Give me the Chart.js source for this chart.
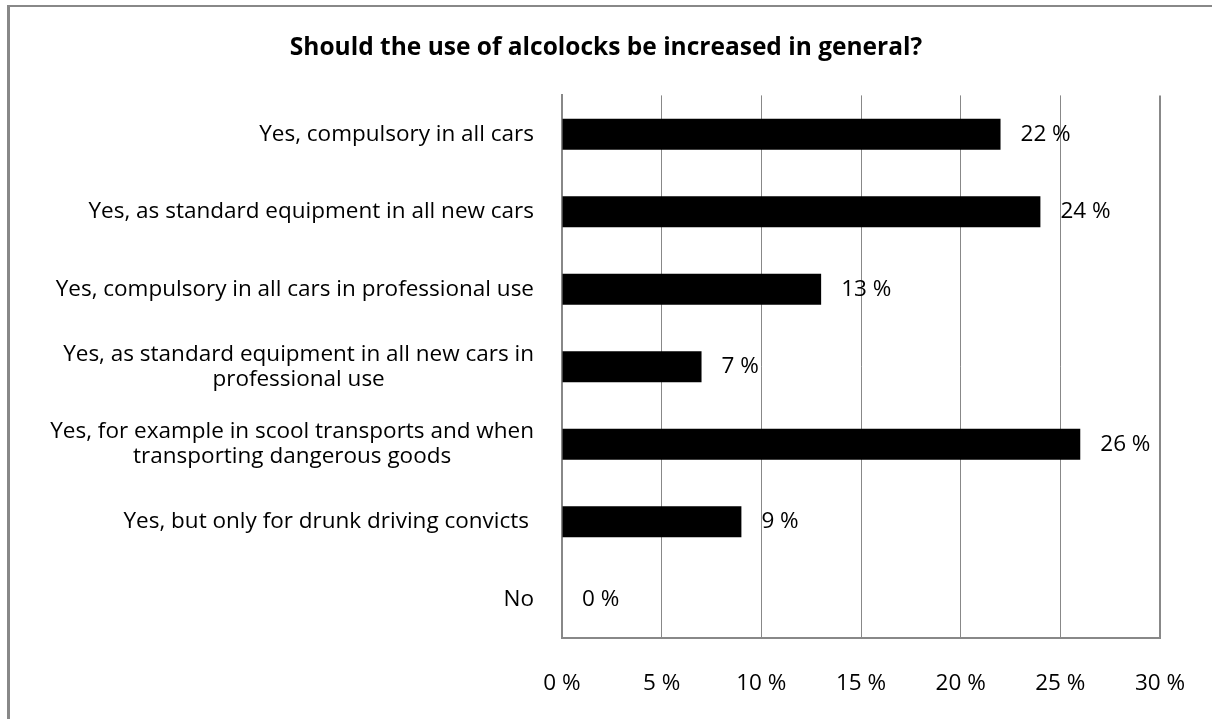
<!DOCTYPE html>
<html>
<head>
<meta charset="utf-8">
<script src="https://cdn.jsdelivr.net/npm/chart.js@4"></script>
<style>
  body { margin: 0; background: #fff; }
  #wrap { position: relative; width: 1212px; height: 719px; }
  #frame { position: absolute; left: 7px; top: 5px; right: 0; bottom: 0;
           border-top: 2px solid #888; border-left: 3px solid #888; pointer-events: none; }
</style>
</head>
<body>
<div id="wrap">
  <canvas id="grafico" width="1212" height="719"></canvas>
  <div id="frame"></div>
</div>
<script>
const titulo = 'Should the use of alcolocks be increased in general?';
const categorias = [
    ['Yes, compulsory in all cars'],
    ['Yes, as standard equipment in all new cars'],
    ['Yes, compulsory in all cars in professional use'],
    ['Yes, as standard equipment in all new cars in', 'professional use'],
    ['Yes, for example in scool transports and when', 'transporting dangerous goods'],
    ['Yes, but only for drunk driving convicts '],
    ['No']
];
const valores = [22, 24, 13, 7, 26, 9, 0];
const escalaMax = 30;
const passo = 5;

const fonte = '"Open Sans", Lato, sans-serif';
const tam = 22.5;

// rotulos do eixo y: linhas centradas entre si, alinhadas a direita
const rotulosY = {
    id: 'rotulosY',
    afterDraw(chart) {
        const ctx = chart.ctx;
        const y = chart.scales.y;
        const direita = chart.chartArea.left - 28;
        ctx.save();
        ctx.font = tam + 'px ' + fonte;
        ctx.fillStyle = '#000';
        ctx.textAlign = 'center';
        ctx.textBaseline = 'middle';
        categorias.forEach((linhas, i) => {
            const extra = l => (l.endsWith(' ') ? 5 : 0);
            const larg = Math.max(...linhas.map(l => ctx.measureText(l.trimEnd()).width + extra(l)));
            const cx = direita - larg / 2;
            const cy = y.getPixelForValue(i);
            const lh = 25;
            linhas.forEach((l, k) => {
                ctx.fillText(l.trimEnd(), cx - extra(l) / 2, cy + (k - (linhas.length - 1) / 2) * lh);
            });
        });
        ctx.restore();
    }
};

// valores ao lado das barras
const rotulosValor = {
    id: 'rotulosValor',
    afterDatasetsDraw(chart) {
        const ctx = chart.ctx;
        const meta = chart.getDatasetMeta(0);
        ctx.save();
        ctx.font = tam + 'px ' + fonte;
        ctx.fillStyle = '#000';
        ctx.textAlign = 'left';
        ctx.textBaseline = 'middle';
        meta.data.forEach((bar, i) => {
            ctx.fillText(valores[i] + ' %', bar.x + 20, bar.y);
        });
        ctx.restore();
    }
};

function desenhar() {
    const ctx = document.getElementById('grafico').getContext('2d');
    window.myChart = new Chart(ctx, {
        type: 'bar',
        data: {
            labels: categorias,
            datasets: [{
                data: valores,
                backgroundColor: '#000',
                borderWidth: 0,
                barPercentage: 0.4,
                categoryPercentage: 1
            }]
        },
        options: {
            indexAxis: 'y',
            responsive: false,
            animation: false,
            layout: { padding: 0 },
            plugins: {
                legend: { display: false },
                tooltip: { enabled: false },
                title: {
                    display: true,
                    text: titulo,
                    color: '#000',
                    font: { family: fonte, size: 24.5, weight: 'bold' },
                    padding: { top: 33, bottom: 33 }
                }
            },
            scales: {
                x: {
                    min: 0,
                    max: escalaMax,
                    ticks: {
                        stepSize: passo,
                        color: '#000',
                        padding: 32,
                        font: { family: fonte, size: tam },
                        callback: v => v + ' %'
                    },
                    grid: {
                        color: '#888',
                        lineWidth: c => (c.index === 6 ? 2 : 1),
                        drawTicks: false
                    },
                    border: { display: true, color: '#888', width: 2 },
                    afterFit: s => { s.height = 81; s.paddingLeft = 0; s.paddingRight = 0; }
                },
                y: {
                    ticks: { display: false },
                    grid: { display: false, drawTicks: false },
                    border: { display: true, color: '#888', width: 2 },
                    afterFit: s => { s.width = 562; }
                },
                // margem direita vazia, para o titulo ficar centrado na largura toda
                margem: {
                    type: 'linear',
                    position: 'right',
                    ticks: { display: false },
                    grid: { display: false, drawTicks: false },
                    border: { display: false },
                    afterFit: s => { s.width = 52; }
                }
            }
        },
        plugins: [rotulosY, rotulosValor]
    });
}

document.fonts.load(tam + 'px "Open Sans"').then(desenhar, desenhar);
</script>
</body>
</html>
